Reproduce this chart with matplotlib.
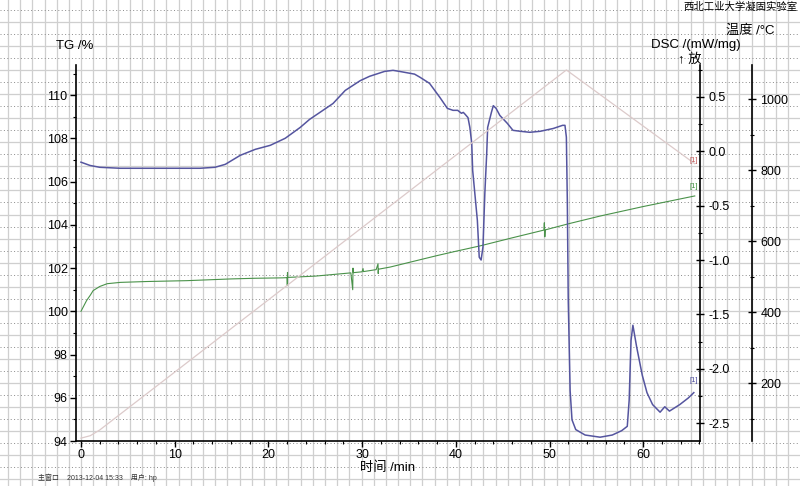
import matplotlib
matplotlib.use("Agg")
import matplotlib.pyplot as plt
import numpy as np
from matplotlib.ticker import MultipleLocator

plt.rcParams['font.family'] = ['Liberation Sans', 'Noto Sans CJK SC', 'DejaVu Sans']
plt.rcParams['axes.unicode_minus'] = False

# DSC 曲线 (蓝)
t_dsc = [0, 0.96, 2.0, 4.2, 7.4, 12.7, 14.3, 15.4, 17.0, 18.6, 20.2, 21.8, 23.4, 24.4,
         25.5, 26.9, 28.2, 29.8, 30.8, 32.4, 33.3, 34.0, 35.6, 36.2, 37.2, 38.3, 39.1,
         39.7, 40.2, 40.6, 40.8, 41.0, 41.3, 41.5, 41.7, 41.8, 42.3, 42.5, 42.7, 42.9,
         43.1, 43.3, 43.4, 43.8, 44.0, 44.3, 44.7, 45.5, 46.1, 46.9, 47.9, 49.0, 50.4,
         51.4, 51.65, 51.8, 51.9, 52.0, 52.2, 52.4, 52.8, 53.8, 55.4, 56.7, 57.7, 58.3,
         58.5, 58.7, 58.9, 59.3, 59.9, 60.4, 61.0, 61.8, 62.3, 62.8, 63.9, 64.8, 65.4]
dsc = [-0.10, -0.13, -0.147, -0.156, -0.156, -0.156, -0.147, -0.12, -0.037, 0.018, 0.055,
       0.12, 0.22, 0.294, 0.358, 0.44, 0.56, 0.65, 0.69, 0.735, 0.745, 0.735, 0.71, 0.68,
       0.625, 0.496, 0.395, 0.377, 0.377, 0.35, 0.358, 0.34, 0.31, 0.22, 0.074, -0.175,
       -0.634, -0.974, -1.0, -0.88, -0.386, -0.018, 0.22, 0.358, 0.42, 0.395, 0.33, 0.257,
       0.193, 0.184, 0.175, 0.184, 0.21, 0.239, 0.239, 0.13, -0.45, -1.37, -2.2, -2.47,
       -2.56, -2.61, -2.63, -2.61, -2.57, -2.53, -2.29, -1.74, -1.60, -1.80, -2.06, -2.22,
       -2.33, -2.40, -2.35, -2.39, -2.33, -2.27, -2.22]

# TG 曲线 (绿)
t_tg = [0, 0.3, 0.6, 1.0, 1.3, 2.0, 2.8, 4.2, 7.0, 11.3, 16.0, 18.5, 21.5, 22.0, 22.02,
        22.04, 22.06, 25.0, 28.8, 29.0, 29.03, 29.06, 30.0, 30.1, 30.15, 31.5, 31.7, 31.72,
        31.75, 33.0, 36.2, 38.0, 40.0, 42.6, 46.0, 49.4, 49.45, 49.5, 49.55, 52.0, 55.4,
        60.0, 65.5]
tg = [100.0, 100.25, 100.5, 100.75, 100.96, 101.15, 101.28, 101.34, 101.38, 101.42, 101.5,
      101.53, 101.55, 101.56, 101.2, 101.8, 101.57, 101.63, 101.78, 101.0, 102.0, 101.79,
      101.83, 101.98, 101.84, 101.93, 102.2, 101.75, 101.95, 102.05, 102.39, 102.58, 102.78,
      103.03, 103.4, 103.76, 104.1, 103.45, 103.77, 104.05, 104.41, 104.85, 105.34]

# 温度 (灰)
t_temp = [0, 1.0, 2.0, 51.8, 65.5]
temp = [45, 52, 68, 1082, 818]

fig = plt.figure(figsize=(8, 4.86), dpi=100)

# 背景方格纸
bg = fig.add_axes([0, 0, 1, 1], zorder=0)
bg.set_xlim(0, 800)
bg.set_ylim(486, 0)
bg.axis('off')
for x in np.arange(8, 800, 12.19):
    bg.axvline(x, color='#cfcfcf', lw=0.9)
for k, y in enumerate(np.arange(10, 486, 12.03)):
    if k % 2 == 0:
        bg.axhline(y, color='#8a8a8a', lw=0.7, ls=(0, (1, 2.5)))
    else:
        bg.axhline(y, color='#cfcfcf', lw=0.9)

ax = fig.add_axes([76/800, 45/486, 624/800, 376/486], zorder=1)
ax.patch.set_visible(False)
ax2 = ax.twinx()
ax3 = ax.twinx()
for a in (ax2, ax3):
    a.patch.set_visible(False)

ax.plot(t_tg, tg, color='#4a924a', lw=0.8)
ax2.plot(t_dsc, dsc, color='#55559f', lw=1.1)
ax3.plot(t_temp, temp, color='#dccaca', lw=0.9)

ax.set_xlim(-0.53, 66.06)
ax.set_ylim(94, 111.4)
ax2.set_ylim(-2.665, 0.794)
ax3.set_ylim(37, 1096)

for a in (ax, ax2, ax3):
    for s in a.spines.values():
        s.set_visible(False)
        s.set_linewidth(1.2)
ax.spines['left'].set_visible(True)
ax.spines['bottom'].set_visible(True)
ax2.spines['right'].set_visible(True)
ax3.spines['right'].set_visible(True)
ax3.spines['right'].set_position(('axes', 1 + 52/624))

ax.xaxis.set_major_locator(MultipleLocator(10))
ax.xaxis.set_minor_locator(MultipleLocator(2))
ax.yaxis.set_major_locator(MultipleLocator(2))
ax.yaxis.set_minor_locator(MultipleLocator(1))
ax2.yaxis.set_major_locator(MultipleLocator(0.5))
ax2.yaxis.set_minor_locator(MultipleLocator(0.25))
ax2.yaxis.set_major_formatter(lambda v, p: f'{v:.1f}')
ax3.yaxis.set_major_locator(MultipleLocator(200))
ax3.yaxis.set_minor_locator(MultipleLocator(100))

ax.tick_params(axis='both', which='major', direction='out', length=4, width=1, labelsize=9, pad=2)
ax.tick_params(axis='both', which='minor', direction='out', length=2, width=0.8)
ax.tick_params(axis='y', which='both', right=False)
ax.tick_params(axis='x', which='both', top=False)
for a in (ax2, ax3):
    a.tick_params(axis='y', which='major', direction='inout', length=6, width=1, labelsize=9, pad=3)
    a.tick_params(axis='y', which='minor', direction='inout', length=3, width=0.8)

ax.set_xlabel('时间 /min', fontsize=9.5, labelpad=0)

# 结束标记
ax3.annotate('[1]', xy=(t_temp[-1], temp[-1]), xytext=(-1, 2), textcoords='offset points',
             ha='center', va='center', fontsize=5.5, color='#c05858')
ax.annotate('[1]', xy=(t_tg[-1], tg[-1]), xytext=(-1, 7), textcoords='offset points',
            ha='center', va='center', fontsize=5.5, color='#3f8f3f')
ax2.annotate('[1]', xy=(t_dsc[-1], dsc[-1]), xytext=(0, 9), textcoords='offset points',
             ha='center', va='center', fontsize=5.5, color='#4c4c9c')

fig.text(75/800, 1 - 46/486, 'TG /%', ha='center', va='center', fontsize=9.5)
fig.text(741/800, 1 - 45/486, 'DSC /(mW/mg)', ha='right', va='center', fontsize=9.5)
fig.text(690/800, 1 - 60/486, '↑ 放', ha='center', va='center', fontsize=9.5)
fig.text(750/800, 1 - 31/486, '温度 /°C', ha='center', va='center', fontsize=9.5)
fig.text(798/800, 1 - 7/486, '西北工业大学凝固实验室', ha='right', va='center', fontsize=7.5)
fig.text(38/800, 1 - 478/486, '主窗口    2013-12-04 15:33    用户: hp', ha='left', va='center',
         fontsize=5, color='#333333')

fig.savefig('out.png', dpi=100)
